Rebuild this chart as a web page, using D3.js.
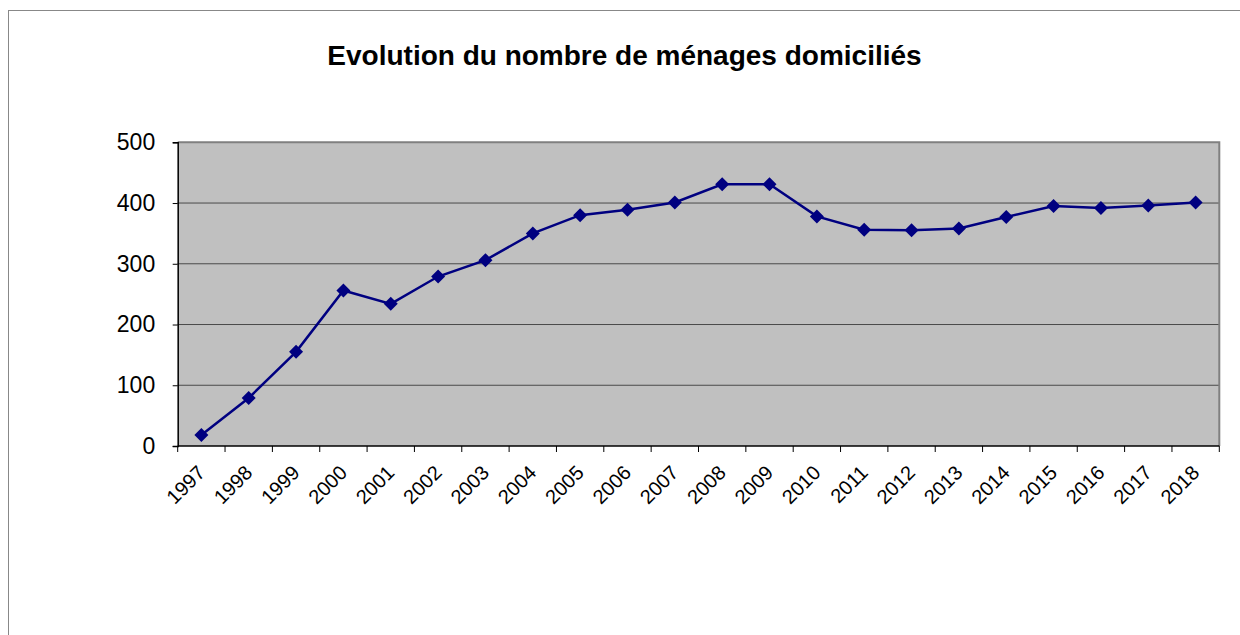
<!DOCTYPE html>
<html><head><meta charset="utf-8">
<script src="https://cdn.jsdelivr.net/npm/d3@7"></script>
<style>body{margin:0;background:#fff;}svg{display:block;}</style>
</head><body>
<svg id="c" width="1240" height="635"></svg>
<script>
const years = ["1997","1998","1999","2000","2001","2002","2003","2004","2005","2006","2007","2008","2009","2010","2011","2012","2013","2014","2015","2016","2017","2018"];
const values = [18,79,155,256,234,279,306,350,380,389,401,431,431,378,356,355,358,377,395,392,396,401];
const yTicks = [0,100,200,300,400,500];
const title = "Evolution du nombre de ménages domiciliés";

const svg = d3.select("#c");
const L = 177.7, R = 1219.3, T = 142.3, B = 446;
const font = "Liberation Sans, Arial, sans-serif";

// outer border
svg.append("rect").attr("x",8.5).attr("y",10.5).attr("width",1240).attr("height",700)
  .attr("fill","#fff").attr("stroke","#888").attr("stroke-width",1);

const x = d3.scaleBand().domain(years).range([L,R]).padding(0);
const y = d3.scaleLinear().domain([0,500]).range([B,T]);

// plot area
svg.append("rect").attr("x",L).attr("y",T).attr("width",R-L).attr("height",B-T).attr("fill","#c0c0c0");

// gridlines
svg.append("g").selectAll("line").data(yTicks.filter(d=>d>0 && d<500)).join("line")
  .attr("x1",L).attr("x2",R).attr("y1",d=>y(d)).attr("y2",d=>y(d))
  .attr("stroke","#4a4a4a").attr("stroke-width",1);

// top & right border
svg.append("path").attr("d",`M${L},${T}H${R}V${B}`).attr("fill","none").attr("stroke","#808080").attr("stroke-width",2);

// y axis
const ya = svg.append("g").attr("transform",`translate(${L},0)`)
  .call(d3.axisLeft(y).tickValues(yTicks).tickSize(5).tickPadding(17.5));
ya.select(".domain").attr("stroke","#000").attr("stroke-width",1.5);
ya.selectAll(".tick line").attr("stroke","#000");
ya.selectAll("text").attr("font-family",font).attr("font-size",23).attr("fill","#000");

// x axis
const xa = svg.append("g").attr("transform",`translate(0,${B})`);
xa.append("line").attr("x1",L).attr("x2",R).attr("stroke","#000").attr("stroke-width",1.5);
const bounds = years.map(d=>x(d)).concat([x(years[years.length-1])+x.bandwidth()]);
xa.selectAll("line.t").data(bounds).join("line").attr("class","t")
  .attr("x1",d=>d).attr("x2",d=>d).attr("y1",0).attr("y2",6).attr("stroke","#000");
xa.selectAll("text").data(years).join("text")
  .attr("transform",d=>`translate(${x(d)+x.bandwidth()/2-5},${18}) rotate(-45)`)
  .attr("text-anchor","end").attr("dy","0.7em")
  .attr("font-family",font).attr("font-size",20).attr("fill","#000").text(d=>d);

// line
const cx = (d,i)=>x(years[i])+x.bandwidth()/2;
svg.append("path").datum(values)
  .attr("d",d3.line().x(cx).y(d=>y(d)))
  .attr("fill","none").attr("stroke","#000080").attr("stroke-width",2.5);
svg.append("g").selectAll("path").data(values).join("path")
  .attr("transform",(d,i)=>`translate(${cx(d,i)},${y(d)})`)
  .attr("d","M0,-7L7,0L0,7L-7,0Z").attr("fill","#000080");

// title
svg.append("text").attr("x",624.5).attr("y",65).attr("text-anchor","middle")
  .attr("font-family",font).attr("font-weight","bold").attr("font-size",28).attr("fill","#000").text(title);
</script>
</body></html>
